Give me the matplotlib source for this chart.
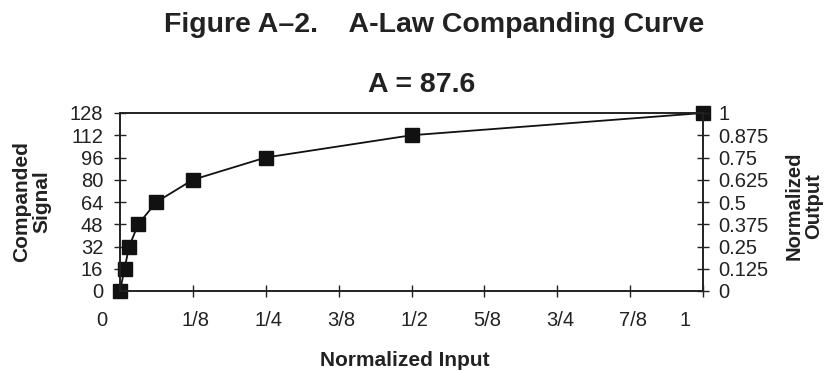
import numpy as np
import matplotlib.pyplot as plt
from matplotlib.transforms import ScaledTranslation

plt.rcParams['font.family'] = ['Liberation Sans', 'DejaVu Sans']

# A-law segment end points
norm_input = [0, 1/128, 1/64, 1/32, 1/16, 1/8, 1/4, 1/2, 1]
companded = [0, 16, 32, 48, 64, 80, 96, 112, 128]

x_ticks = [0, 1/8, 1/4, 3/8, 1/2, 5/8, 3/4, 7/8, 1]
x_labels = ['0', '1/8', '1/4', '3/8', '1/2', '5/8', '3/4', '7/8', '1']
left_ticks = [0, 16, 32, 48, 64, 80, 96, 112, 128]
right_ticks = [0, 0.125, 0.25, 0.375, 0.5, 0.625, 0.75, 0.875, 1]
right_labels = ['0', '0.125', '0.25', '0.375', '0.5', '0.625', '0.75', '0.875', '1']

W, H = 825, 372
fig = plt.figure(figsize=(W/100, H/100), dpi=100)
ax = fig.add_axes([120/W, 81/H, 583/W, 178/H])

ink = '#222222'
ax.plot(norm_input, companded, color='#111111', lw=1.3, marker='s',
        markersize=9.5, markerfacecolor='#111111', markeredgecolor='#111111',
        clip_on=False, zorder=5)

ax.set_xlim(0, 1)
ax.set_ylim(0, 128)
ax.set_xticks(x_ticks)
ax.set_xticklabels(x_labels)
ax.set_yticks(left_ticks)

for sp in ax.spines.values():
    sp.set_linewidth(1.2)
    sp.set_color(ink)

ax.tick_params(axis='both', direction='inout', length=9, width=1.0,
               color=ink, labelcolor=ink, labelsize=14.5)
ax.tick_params(axis='x', pad=10)
ax.tick_params(axis='y', pad=7.5)

# the end labels on the x axis sit a bit left of their ticks
for lab, txt in zip(ax.get_xticklabels(), x_labels):
    dx = -18 if txt in ('0', '1') else 3
    lab.set_transform(lab.get_transform() + ScaledTranslation(dx/100, 0, fig.dpi_scale_trans))

ax2 = ax.twinx()
ax2.set_ylim(0, 1)
ax2.set_yticks(right_ticks)
ax2.set_yticklabels(right_labels)
ax2.tick_params(axis='y', direction='inout', length=9, width=1.0,
                color=ink, labelcolor=ink, labelsize=14.5, pad=6.5)
for sp in ax2.spines.values():
    sp.set_linewidth(1.2)
    sp.set_color(ink)

lab_kw = dict(fontsize=15, fontweight='bold', color=ink, ha='center', va='center')
fig.text(405/W, 1 - 360/H, 'Normalized Input', **lab_kw)
fig.text(32/W, 1 - 202/H, 'Companded\nSignal', rotation=90, linespacing=1.1, **lab_kw)
fig.text(804/W, 1 - 206/H, 'Normalized\nOutput', rotation=90, linespacing=1.0,
         fontsize=14.5, fontweight='bold', color=ink, ha='center', va='center')

fig.text(434/W, 1 - 32/H, 'Figure A\u20132.    A-Law Companding Curve',
         ha='center', va='baseline', fontsize=20.5, fontweight='bold', color=ink)
fig.text(422/W, 1 - 92/H, 'A = 87.6',
         ha='center', va='baseline', fontsize=20.5, fontweight='bold', color=ink)

fig.savefig('out.png', dpi=100)
